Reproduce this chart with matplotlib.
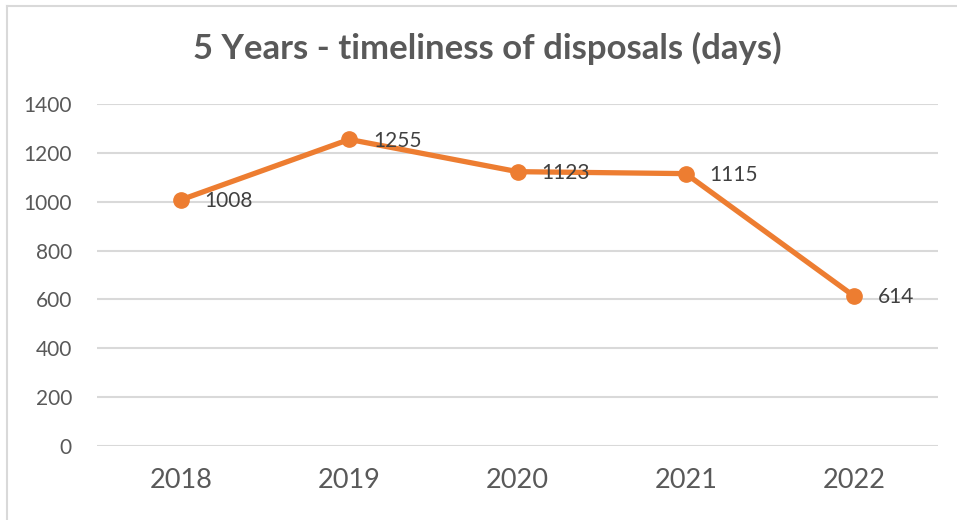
import matplotlib
matplotlib.use("Agg")
import matplotlib.pyplot as plt
from matplotlib.lines import Line2D

years = ["2018", "2019", "2020", "2021", "2022"]
days = [1008, 1255, 1123, 1115, 614]
y_ticks = [0, 200, 400, 600, 800, 1000, 1200, 1400]
title = "5 Years - timeliness of disposals (days)"

ORANGE = "#ED7D31"
TEXT = "#595959"
GRID = "#D9D9D9"
FONT = "Lato"

W, H = 957, 520
fig = plt.figure(figsize=(W / 100, H / 100), dpi=100)
ax = fig.add_axes([97 / W, 1 - 446 / H, (938 - 97) / W, (446 - 104) / H])

x = list(range(len(years)))
ax.plot(x, days, color=ORANGE, lw=3.8, marker="o", ms=11, solid_capstyle="round", zorder=3, clip_on=False)
for xi, v in zip(x, days):
    ax.annotate(str(v), (xi, v), xytext=(17, -1), textcoords="offset points",
                ha="left", va="center", fontsize=15, color="#404040", family=FONT)

ax.set_xlim(-0.5, len(years) - 0.5)
ax.set_ylim(0, 1400)
ax.set_yticks(y_ticks)
ax.set_yticklabels([str(t) for t in y_ticks], fontsize=15, color=TEXT, family=FONT)
ax.set_xticks(x)
ax.set_xticklabels(years, fontsize=19.5, color=TEXT, family=FONT)
ax.tick_params(axis="both", length=0)
ax.tick_params(axis="y", pad=18)
ax.tick_params(axis="x", pad=16)
ax.grid(axis="y", color=GRID, lw=1.5)
ax.set_axisbelow(True)
for s in ax.spines.values():
    s.set_visible(False)

fig.text(487 / W, 1 - 48 / H, title, ha="center", va="center", fontsize=25,
         fontweight="bold", color=TEXT, family=FONT)

fig.add_artist(Line2D([7.5 / W, 1], [1 - 5.5 / H, 1 - 5.5 / H], transform=fig.transFigure, color="#D9D9D9", lw=1.5))
fig.add_artist(Line2D([7.5 / W, 7.5 / W], [0, 1 - 5.5 / H], transform=fig.transFigure, color="#D9D9D9", lw=1.5))

fig.savefig("out.png", dpi=100)
